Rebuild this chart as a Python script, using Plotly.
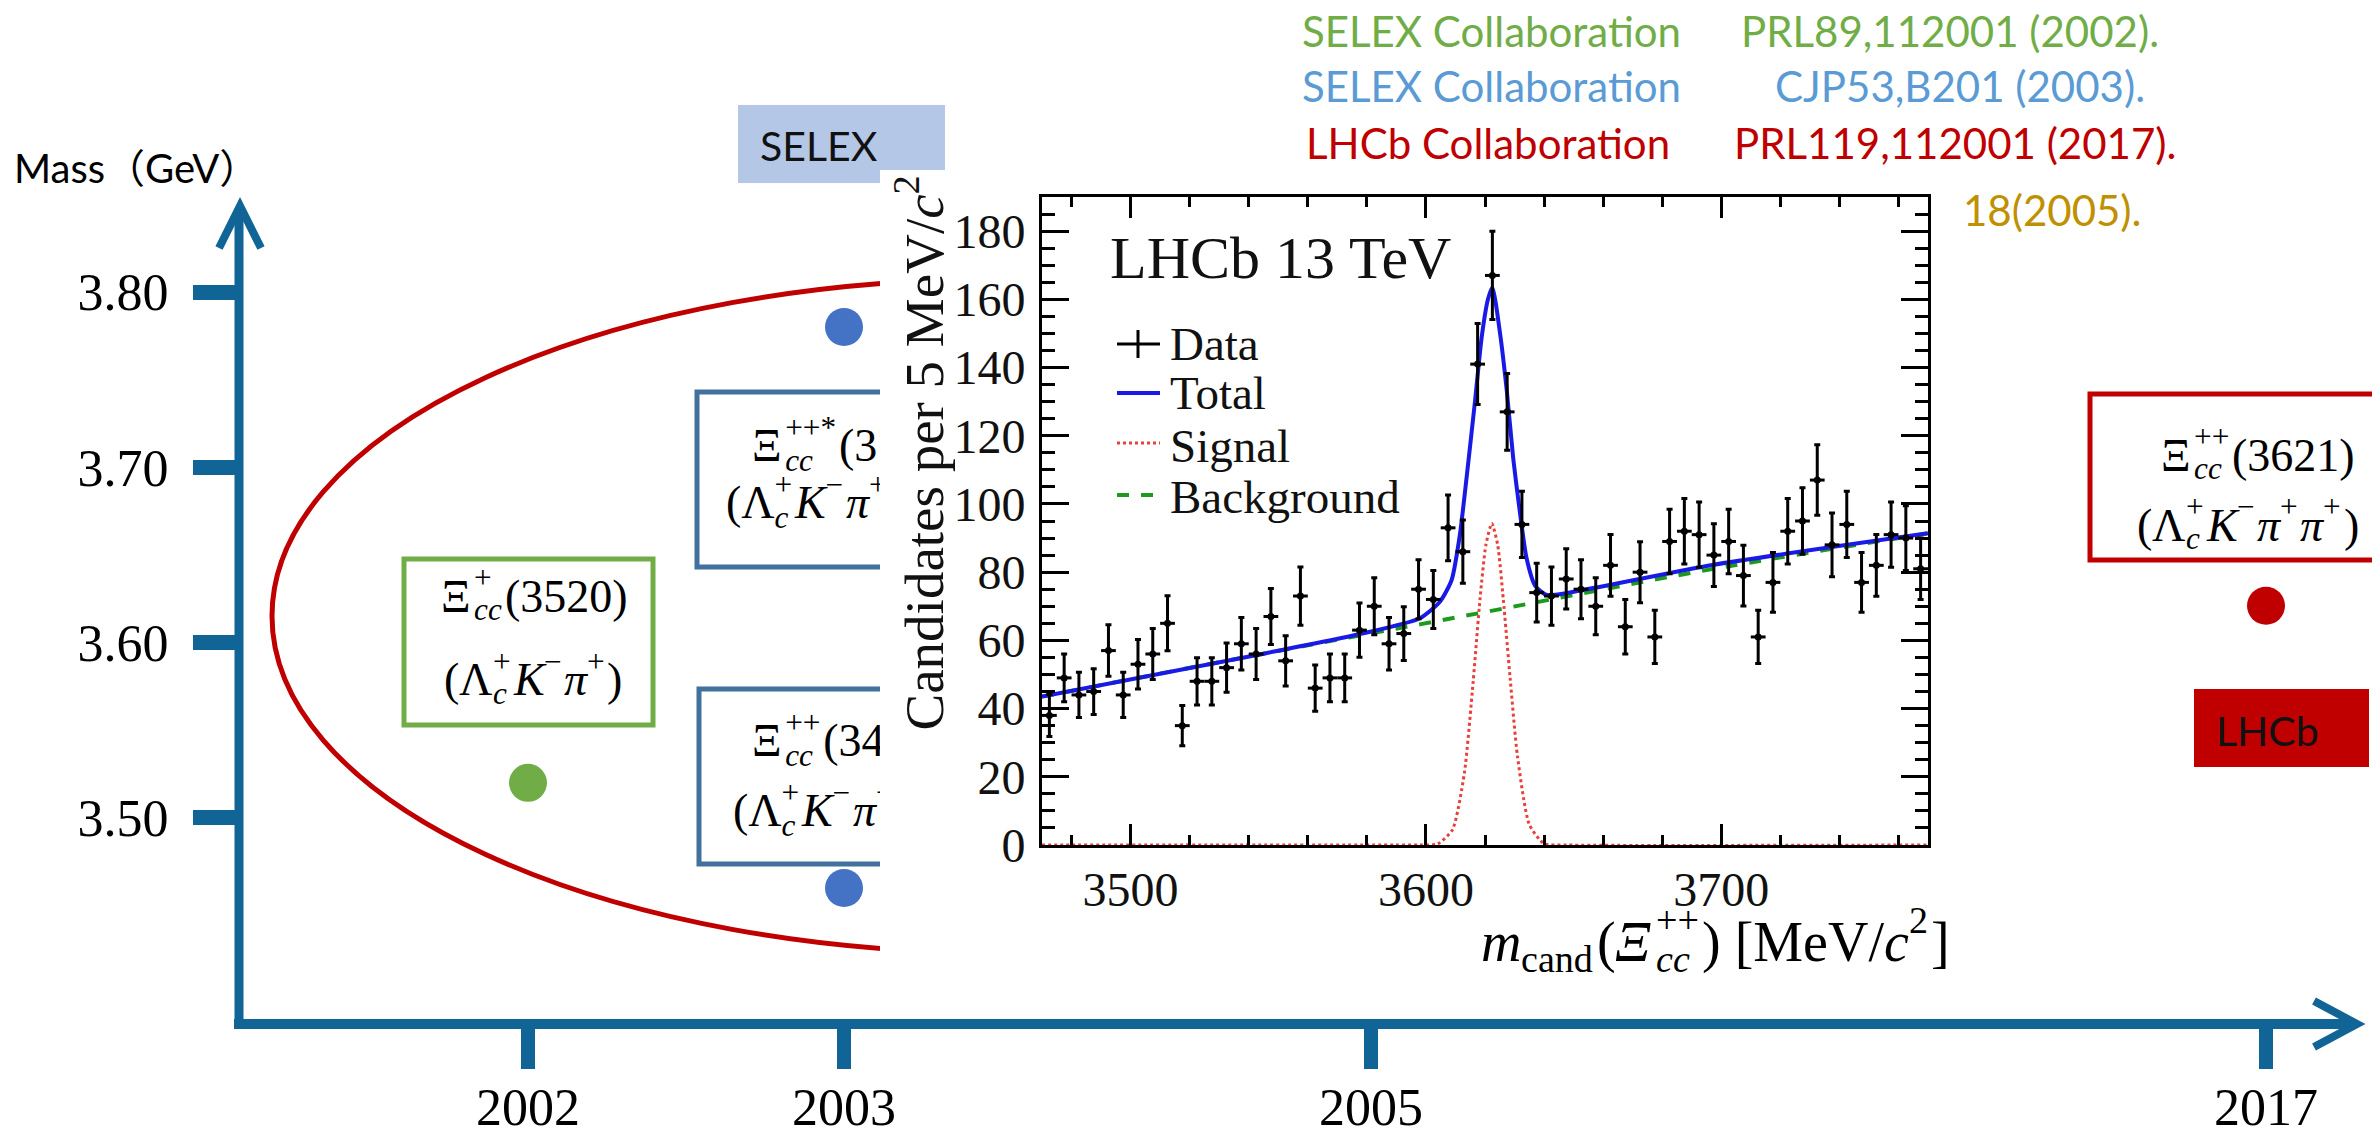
import numpy as np
import plotly.graph_objects as go

W, H = 2372, 1139

# ---------------- timeline of doubly charmed baryon observations ----------------
years = [2002, 2003, 2005, 2017]
year_labels = ["2002", "2003", "2005", "2017"]
mass_ticks = [3.50, 3.60, 3.70, 3.80]
mass_tick_labels = ["3.50", "3.60", "3.70", "3.80"]

state_year = [2002, 2003, 2003, 2017]
state_mass_gev = [3.520, 3.780, 3.460, 3.621]

ref_collab = ["SELEX Collaboration", "SELEX Collaboration", "LHCb Collaboration"]
ref_journal = ["PRL89,112001 (2002).", "CJP53,B201 (2003).", "PRL119,112001 (2017)."]
ref_partial = "18(2005)."

# ---------------- LHCb 13 TeV mass spectrum (5 MeV bins) ----------------
bin_low_edge = 3470.0
bin_width = 5.0
candidates = [38, 49, 44, 45, 57, 44, 53, 56, 65, 35,
              48, 48, 52, 59, 56, 67, 54, 73, 46, 49,
              49, 63, 70, 59, 62, 75, 72, 93, 86, 141,
              167, 127, 94, 74, 73, 78, 75, 70, 82, 64,
              80, 61, 89, 92, 91, 85, 89, 79, 61, 77,
              92, 95, 107, 88, 94, 77, 82, 91, 90, 81]

# fit curves, read at knots along each line
total_mev = [3470, 3545, 3580, 3598, 3604.8, 3608.7, 3611.5, 3613.8, 3616.6, 3618.9,
             3621.0, 3622.5, 3625.1, 3627.4, 3629.6, 3631.9, 3634.1, 3637.0, 3640.9,
             3652.2, 3697.0, 3770]
total_val = [43.5, 56.1, 62.3, 66.5, 71.4, 77.7, 91.0, 108.0, 130.0, 149.0,
             160.0, 163.5, 150.0, 133.0, 113.0, 97.0, 84.0, 76.0, 73.3,
             74.6, 82.1, 91.4]
signal_mev = [3470, 3590, 3598, 3604, 3609, 3613, 3616, 3618.3, 3620.3, 3622.3,
              3624.3, 3626.2, 3628.5, 3631, 3635, 3640, 3648, 3770]
signal_val = [0, 0, 0, 0.3, 4.5, 21, 48, 72, 88, 94.3,
              88, 72, 49, 26, 6, 0.4, 0, 0]
bkg_mev = [3470, 3545, 3620, 3695, 3770]
bkg_val = [43.5, 56.1, 68.3, 80.6, 91.4]

# ---------------- layout constants ----------------
YEAR_X = {2002: 528, 2003: 844, 2005: 1371, 2017: 2266}   # timeline x position (px)
YEAR_COLOR = {2002: "#70ad47", 2003: "#4472c4", 2017: "#c00000"}
MASS_REF, MASS_REF_PX, PX_PER_GEV = 3.80, 292.0, 1753.0
AXIS_BLUE = "#106496"
RED = "#c00000"
GREEN = "#70ad47"
BOX_BLUE = "#41719c"
SERIF = "Liberation Serif"
SANS = "Lato, Noto Sans CJK SC"
BOX_FONT = 46
PANEL_LEFT = 880   # left edge of the white panel holding the spectrum


def px(x):
    return x / W


def py(y):
    return 1 - y / H


# Times-metric glyph widths (em) used to lay out formulas
EM_R = {"(": .333, ")": .333, "[": .333, "]": .333, "/": .278, " ": .25, "+": .564,
        "−": .564, "*": .5, "Ξ": .722, "Λ": .722, "M": .889, "e": .444, "V": .722,
        "c": .444, "a": .444, "n": .5, "d": .5}
EM_I = {"K": .667, "π": .5, "c": .444, "m": .722, "Ξ": .722}


def text_width(s, size, italic=False):
    table = EM_I if italic else EM_R
    return sum(table.get(ch, 0.5) for ch in s) * size


def compose(tokens, x, y, size):
    """Lay out a formula left to right with stacked sub/superscripts."""
    pieces = []
    small = 0.68 * size
    for tok in tokens:
        kind = tok[0]
        if kind in ("r", "i"):
            s = tok[1]
            pieces.append((x, y, f"<i>{s}</i>" if kind == "i" else s, size))
            x += text_width(s, size, kind == "i")
        else:  # stacked subscript / superscript
            sub, sup, sub_it = tok[1], tok[2], tok[3]
            adv = 0
            if sub:
                pieces.append((x, y + 0.30 * size, f"<i>{sub}</i>" if sub_it else sub, small))
                adv = max(adv, text_width(sub, small, sub_it))
            if sup:
                pieces.append((x, y - 0.40 * size, sup, small))
                adv = max(adv, text_width(sup, small))
            x += adv + 0.06 * size
    return pieces


def xi_tokens(sup, mass):
    return [("r", "Ξ"), ("ss", "cc", sup, True), ("r", f"({mass})")]


def decay_tokens(n_pions):
    toks = [("r", "("), ("r", "Λ"), ("ss", "c", "+", True), ("i", "K"), ("ss", "", "−", True)]
    for _ in range(n_pions):
        toks += [("i", "π"), ("ss", "", "+", True)]
    return toks + [("r", ")")]


annotations = []


def add_pieces_as_annotations(pieces):
    for x, y, html, size in pieces:
        annotations.append(dict(x=px(x), y=py(y), xref="paper", yref="paper", text=html,
                                showarrow=False, xanchor="left", yanchor="middle",
                                borderpad=0, font=dict(family=SERIF, size=size, color="black")))


def add_text(x, y, text, size, color="black", family=SANS, xanchor="left", **kw):
    annotations.append(dict(x=px(x), y=py(y), xref="paper", yref="paper", text=text,
                            showarrow=False, xanchor=xanchor, yanchor="middle", borderpad=0,
                            font=dict(family=family, size=size, color=color), **kw))


fig = go.Figure()

# ---------------- decorative shapes (drawn beneath everything) ----------------
shapes = []


def rect(x0, y0, x1, y1, **kw):
    shapes.append(dict(type="rect", xref="paper", yref="paper", x0=px(x0), x1=px(x1),
                       y0=py(y0), y1=py(y1), layer="below", **kw))


shapes.append(dict(type="circle", xref="paper", yref="paper", x0=px(272), x1=px(1728),
                   y0=py(279), y1=py(953), line=dict(color=RED, width=5), layer="below"))
rect(404, 559, 653, 725, line=dict(color=GREEN, width=5))
rect(697, 392, 960, 567, line=dict(color=BOX_BLUE, width=5))
rect(699, 689, 960, 864, line=dict(color=BOX_BLUE, width=5))
rect(2090, 394, 2400, 560, line=dict(color=RED, width=5))
rect(2194, 689, 2369, 767, fillcolor=RED, line=dict(width=0))
rect(738, 105, 945, 183, fillcolor="#b4c7e7", line=dict(width=0))
# white panel holding the LHCb spectrum
rect(PANEL_LEFT, 170, 1962, 975, fillcolor="white", line=dict(width=0))

# timeline axes with arrow heads
shapes.append(dict(type="line", xref="paper", yref="paper", x0=px(239), x1=px(239),
                   y0=py(1029), y1=py(212), line=dict(color=AXIS_BLUE, width=9), layer="above"))
shapes.append(dict(type="path", xref="paper", yref="paper",
                   path=f"M {px(219)},{py(248)} L {px(240)},{py(206)} L {px(261)},{py(248)}",
                   line=dict(color=AXIS_BLUE, width=8), layer="above"))
shapes.append(dict(type="line", xref="paper", yref="paper", x0=px(234), x1=px(2352),
                   y0=py(1024), y1=py(1024), line=dict(color=AXIS_BLUE, width=10), layer="above"))
shapes.append(dict(type="path", xref="paper", yref="paper",
                   path=f"M {px(2314)},{py(1001)} L {px(2357)},{py(1024)} L {px(2314)},{py(1047)}",
                   line=dict(color=AXIS_BLUE, width=8), layer="above"))


# inset legend samples
def seg(x0, y0, x1, y1, color, width, dash="solid"):
    shapes.append(dict(type="line", xref="paper", yref="paper", x0=px(x0), x1=px(x1),
                       y0=py(y0), y1=py(y1), line=dict(color=color, width=width, dash=dash),
                       layer="above"))


seg(1117, 344, 1160, 344, "black", 3)
seg(1138, 330, 1138, 358, "black", 3)
seg(1117, 393, 1160, 393, "#1a1ae6", 4)
seg(1117, 443, 1160, 443, "#e8403c", 3, "dot")
seg(1117, 495, 1160, 495, "#1c9a1c", 4, "dash")

# ---------------- timeline data points ----------------
fig.add_trace(go.Scatter(
    x=[YEAR_X[y] for y in state_year], y=state_mass_gev, mode="markers",
    marker=dict(size=38, color=[YEAR_COLOR[y] for y in state_year], line=dict(width=0)),
    xaxis="x", yaxis="y", showlegend=False, hoverinfo="skip"))

# ---------------- LHCb spectrum ----------------
counts = np.array(candidates, dtype=float)
centers = bin_low_edge + bin_width * (np.arange(len(counts)) + 0.5)

fig.add_trace(go.Scatter(x=signal_mev, y=signal_val, mode="lines", xaxis="x2", yaxis="y2",
                         line=dict(color="#e8403c", width=3, dash="dot", shape="spline", smoothing=0.6),
                         showlegend=False, hoverinfo="skip"))
fig.add_trace(go.Scatter(x=bkg_mev, y=bkg_val, mode="lines", xaxis="x2", yaxis="y2",
                         line=dict(color="#1c9a1c", width=4, dash="dash", shape="spline"),
                         showlegend=False, hoverinfo="skip"))
fig.add_trace(go.Scatter(x=total_mev, y=total_val, mode="lines", xaxis="x2", yaxis="y2",
                         line=dict(color="#1a1ae6", width=4, shape="spline", smoothing=0.6),
                         showlegend=False, hoverinfo="skip"))
fig.add_trace(go.Scatter(
    x=centers, y=counts, mode="markers", xaxis="x2", yaxis="y2",
    marker=dict(size=7, color="black"),
    error_y=dict(type="data", array=np.sqrt(counts), thickness=3, width=3, color="black"),
    error_x=dict(type="constant", value=bin_width / 2, thickness=3, width=0, color="black"),
    showlegend=False, hoverinfo="skip"))

# ---------------- box labels ----------------
add_pieces_as_annotations(compose(xi_tokens("+", 3520), 440, 596, BOX_FONT))
add_pieces_as_annotations(compose(decay_tokens(1), 443, 680, BOX_FONT))
add_pieces_as_annotations(compose(xi_tokens("++", 3621), 2160, 455, BOX_FONT))
add_pieces_as_annotations(compose(decay_tokens(2), 2136, 525, BOX_FONT))

# SELEX 2003 labels are cut by the spectrum panel: draw them on a clipped canvas
clip_pieces = (compose(xi_tokens("++*", 3780), 752, 449, BOX_FONT)
               + compose(decay_tokens(1), 726, 506, BOX_FONT)
               + compose(xi_tokens("++", 3460), 752, 744, BOX_FONT)
               + compose(decay_tokens(1), 733, 814, BOX_FONT))
clip_pieces = [p for p in clip_pieces if p[0] < PANEL_LEFT]
fig.add_trace(go.Scatter(
    x=[p[0] for p in clip_pieces], y=[p[1] for p in clip_pieces],
    text=[p[2] for p in clip_pieces], mode="text", textposition="middle right",
    textfont=dict(family=SERIF, size=[p[3] for p in clip_pieces], color="black"),
    xaxis="x3", yaxis="y3", cliponaxis=True, showlegend=False, hoverinfo="skip"))

# ---------------- other text ----------------
add_text(13, 168, "Mass（GeV）", 40)
add_text(759, 145, "SELEX", 41, color="#111111")
add_text(2215, 730, "LHCb", 41, color="#111111")

ref_colors = [GREEN, "#5b9bd5", RED]
ref_rows = [31, 86, 143]
ref_collab_x = [1301, 1301, 1305]
ref_journal_x = [1740, 1774, 1733]
for name, journal, c, yy, x0, x1 in zip(ref_collab, ref_journal, ref_colors, ref_rows,
                                        ref_collab_x, ref_journal_x):
    add_text(x0, yy, name, 42, color=c)
    add_text(x1, yy, journal, 42, color=c)
add_text(1962, 210, ref_partial, 42, color="#bf9000")

# inset text
add_text(1109, 258, "LHCb 13 TeV", 60, family=SERIF, color="#111111")
for label, yy in zip(["Data", "Total", "Signal", "Background"], [344, 393, 446, 497]):
    add_text(1169, yy, label, 47, family=SERIF, color="#111111")
add_pieces_as_annotations(compose(
    [("i", "m"), ("ss", "cand", "", False), ("r", "("), ("i", "Ξ"), ("ss", "cc", "++", True),
     ("r", ") [MeV/"), ("i", "c"), ("ss", "", "2", False), ("r", "]")], 1480, 942, 56))
annotations.append(dict(x=px(920), y=py(174), xref="paper", yref="paper",
                        text="Candidates per 5 MeV/<i>c</i><sup>2</sup>", textangle=-90,
                        showarrow=False, xanchor="center", yanchor="top",
                        font=dict(family=SERIF, size=55, color="#111111")))

# ---------------- axes ----------------
mass_top = MASS_REF + MASS_REF_PX / PX_PER_GEV
mass_bottom = MASS_REF - (H - MASS_REF_PX) / PX_PER_GEV

inset_tick = dict(showline=True, mirror="allticks", linecolor="black", linewidth=3,
                  ticks="inside", tickwidth=3, tickcolor="black", showgrid=False,
                  zeroline=False, automargin=False,
                  tickfont=dict(family=SERIF, size=48, color="#111111"))

fig.update_layout(
    width=W, height=H, margin=dict(l=0, r=0, t=0, b=0, pad=0, autoexpand=False),
    paper_bgcolor="white", plot_bgcolor="rgba(0,0,0,0)",
    shapes=shapes, annotations=annotations, showlegend=False,
    xaxis=dict(domain=[0, 1], range=[0, W], anchor="free", position=1 - 1024 / H,
               tickmode="array", tickvals=[YEAR_X[y] for y in years], ticktext=year_labels,
               ticks="outside", ticklen=44, tickwidth=14, tickcolor=AXIS_BLUE,
               showline=False, showgrid=False, zeroline=False, automargin=False,
               ticklabelstandoff=-6, tickfont=dict(family=SERIF, size=52, color="black")),
    yaxis=dict(domain=[0, 1], range=[mass_bottom, mass_top], anchor="free", position=239 / W,
               tickmode="array", tickvals=mass_ticks, ticktext=mass_tick_labels,
               ticks="outside", ticklen=46, tickwidth=15, tickcolor=AXIS_BLUE,
               showline=False, showgrid=False, zeroline=False, automargin=False,
               ticklabelstandoff=14, tickfont=dict(family=SERIF, size=52, color="black")),
    xaxis2=dict(domain=[1042 / W, 1928 / W], range=[3470, 3770], anchor="y2",
                tickmode="linear", tick0=3500, dtick=100, ticklen=21,
                minor=dict(ticks="inside", tickmode="linear", tick0=3480, dtick=20,
                           ticklen=10, tickwidth=3, tickcolor="black"),
                **inset_tick),
    yaxis2=dict(domain=[1 - 845 / H, 1 - 197 / H], range=[0, 190], anchor="x2",
                tickmode="linear", tick0=0, dtick=20, ticklen=27,
                minor=dict(ticks="inside", tickmode="linear", tick0=0, dtick=5,
                           ticklen=13, tickwidth=3, tickcolor="black"),
                ticklabelstandoff=4, **inset_tick),
    xaxis3=dict(domain=[0, PANEL_LEFT / W], range=[0, PANEL_LEFT], anchor="y3", visible=False),
    yaxis3=dict(domain=[0, 1], range=[H, 0], anchor="x3", visible=False),
)

fig.write_html("out.html")
